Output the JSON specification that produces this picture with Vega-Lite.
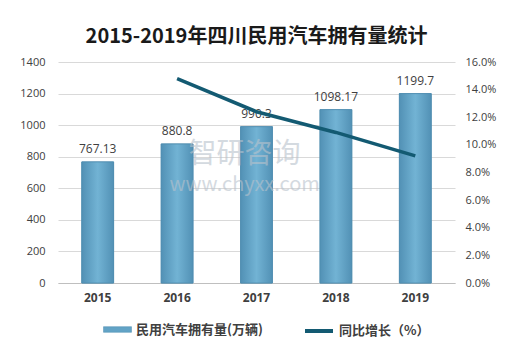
{
  "$schema": "https://vega.github.io/schema/vega-lite/v6.json",
  "width": 397,
  "height": 221,
  "autosize": {"type": "none"},
  "padding": {"left": 58, "top": 62, "right": 66, "bottom": 69},
  "background": "white",
  "title": {
    "text": "2015-2019年四川民用汽车拥有量统计",
    "font": "Noto Sans CJK SC",
    "fontSize": 20,
    "fontWeight": "bold",
    "color": "#1a1a1a",
    "anchor": "middle",
    "offset": 9
  },
  "config": {
    "view": {"stroke": null},
    "font": "Noto Sans CJK SC",
    "axis": {"labelFont": "Open Sans", "labelColor": "#404040", "titleFont": "Noto Sans CJK SC"}
  },
  "data": {
    "values": [
      {"year": "2015", "cars": 767.13, "label": "767.13", "growth": null},
      {"year": "2016", "cars": 880.8, "label": "880.8", "growth": 0.148},
      {"year": "2017", "cars": 990.3, "label": "990.3", "growth": 0.124},
      {"year": "2018", "cars": 1098.17, "label": "1098.17", "growth": 0.109},
      {"year": "2019", "cars": 1199.7, "label": "1199.7", "growth": 0.092}
    ]
  },
  "encoding": {
    "x": {
      "field": "year",
      "type": "ordinal",
      "scale": {"paddingInner": 0.6, "paddingOuter": 0.3},
      "axis": {
        "title": null,
        "labelAngle": 0,
        "labelFontSize": 12,
        "labelFontWeight": "bold",
        "labelPadding": 9,
        "ticks": false,
        "domainColor": "#bfbfbf",
        "grid": false
      }
    }
  },
  "layer": [
    {
      "encoding": {
        "y": {
          "field": "cars",
          "type": "quantitative",
          "scale": {"domain": [0, 1400]},
          "axis": {
            "title": null,
            "format": "d",
            "values": [0, 200, 400, 600, 800, 1000, 1200, 1400],
            "labelFontSize": 11,
            "labelPadding": 13,
            "ticks": false,
            "domain": false,
            "gridColor": "#d9d9d9",
            "orient": "left"
          }
        }
      },
      "layer": [
        {
          "mark": {"type": "bar", "stroke": "#4f8db0", "strokeWidth": 0.8},
          "encoding": {
            "fill": {
              "datum": "民用汽车拥有量(万辆)",
              "type": "nominal",
              "scale": {"range": ["#62a3c6"]},
              "legend": {
                "orient": "none",
                "legendX": 45,
                "legendY": 253,
                "title": null,
                "padding": 0,
                "symbolType": "M-1,-0.2H1V0.2H-1Z",
                "symbolSize": 784,
                "symbolStrokeColor": "#4f8db0",
                "symbolStrokeWidth": 0.5,
                "labelFont": "Noto Sans CJK SC",
                "labelFontSize": 13,
                "labelFontWeight": "bold",
                "labelColor": "#404040",
                "labelLimit": 300
              }
            }
          }
        },
        {
          "mark": {"type": "bar", "stroke": "#4f8db0", "strokeWidth": 0.8, "color": {"gradient": "linear", "x1": 0, "x2": 1, "y1": 0, "y2": 0, "stops": [{"offset": 0, "color": "#5291b5"}, {"offset": 0.5, "color": "#72b3d4"}, {"offset": 1, "color": "#5291b5"}]}}
        },
        {
          "mark": {"type": "text", "baseline": "bottom", "dy": -6, "font": "Open Sans", "fontSize": 12, "color": "#404040"},
          "encoding": {
            "text": {"field": "label"}
          }
        },
        {
          "data": {"values": [
            {"year": "2017", "cars": 811, "t": "智研咨询", "s": "a"},
            {"year": "2017", "cars": 621, "t": "www.chyxx.com", "s": "b"}
          ]},
          "mark": {"type": "text", "font": "Noto Sans CJK SC", "color": "#b8c2cc", "opacity": 0.6},
          "encoding": {
            "text": {"field": "t"},
            "size": {"field": "s", "type": "nominal", "scale": {"domain": ["a", "b"], "range": [28, 20]}, "legend": null},
            "xOffset": {"value": 4}
          }
        }
      ]
    },
    {
      "mark": {"type": "line", "strokeWidth": 3.5, "interpolate": "linear"},
      "transform": [{"filter": "datum.growth != null"}],
      "encoding": {
        "y": {
          "field": "growth",
          "type": "quantitative",
          "scale": {"domain": [0, 0.16]},
          "axis": {
            "title": null,
            "orient": "right",
            "format": ".1%",
            "values": [0, 0.02, 0.04, 0.06, 0.08, 0.1, 0.12, 0.14, 0.16],
            "labelFontSize": 11,
            "labelPadding": 10,
            "ticks": false,
            "domain": false,
            "grid": false
          }
        },
        "stroke": {
          "datum": "同比增长（%）",
          "type": "nominal",
          "scale": {"range": ["#135a72"]},
          "legend": {
            "orient": "none",
            "legendX": 245,
            "legendY": 253,
            "title": null,
            "padding": 0,
            "symbolType": "stroke",
            "symbolSize": 784,
            "symbolStrokeWidth": 4,
            "labelFont": "Noto Sans CJK SC",
            "labelFontSize": 13,
            "labelFontWeight": "bold",
            "labelColor": "#404040"
          }
        }
      }
    }
  ],
  "resolve": {"scale": {"y": "independent"}}
}
